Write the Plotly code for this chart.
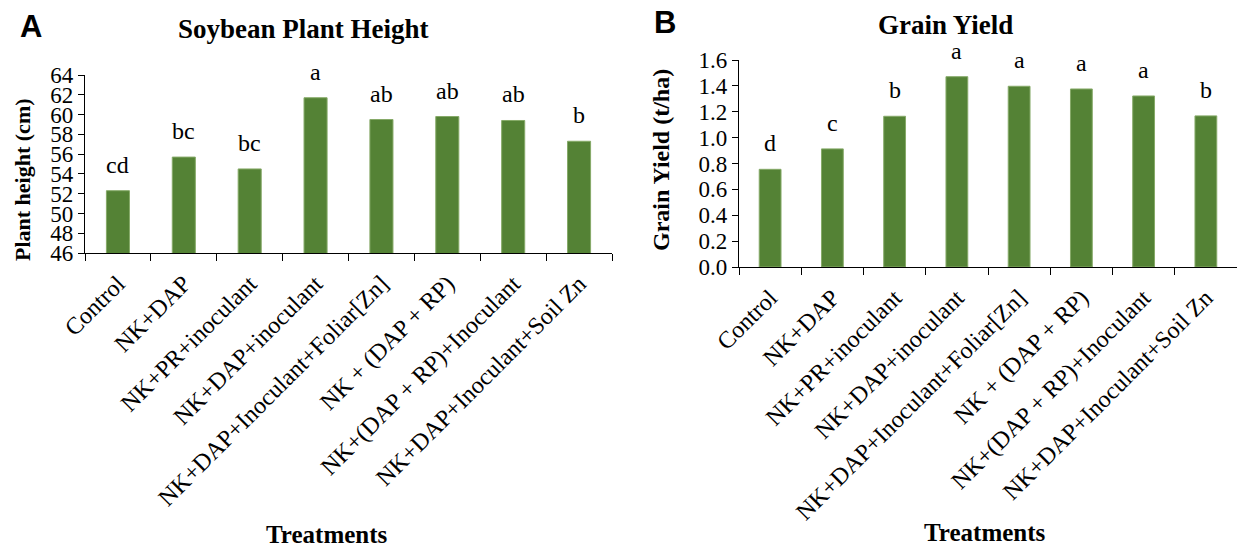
import plotly.graph_objects as go

treatments = ["Control", "NK+DAP", "NK+PR+inoculant", "NK+DAP+inoculant",
              "NK+DAP+Inoculant+Foliar[Zn]", "NK + (DAP + RP)",
              "NK+(DAP + RP)+Inoculant", "NK+DAP+Inoculant+Soil Zn"]
plant_height = [52.3, 55.7, 54.5, 61.7, 59.5, 59.8, 59.4, 57.3]
height_letters = ["cd", "bc", "bc", "a", "ab", "ab", "ab", "b"]
grain_yield = [0.755, 0.913, 1.165, 1.471, 1.397, 1.376, 1.322, 1.168]
yield_letters = ["d", "c", "b", "a", "a", "a", "a", "b"]

W, H = 1239, 550
SERIF = "Liberation Serif"
SANS = "Liberation Sans"
BAR = "#548235"

def px(x):
    return x / W

def py(y):
    return 1 - y / H

fig = go.Figure()
fig.add_trace(go.Bar(x=treatments, y=plant_height, xaxis="x", yaxis="y",
                     marker=dict(color=BAR, line=dict(color="#86aa68", width=1)),
                     width=0.35, showlegend=False))
fig.add_trace(go.Bar(x=treatments, y=grain_yield, xaxis="x2", yaxis="y2",
                     marker=dict(color=BAR, line=dict(color="#86aa68", width=1)),
                     width=0.35, showlegend=False))

tickfont = dict(family=SERIF, size=24, color="black")
common_x = dict(type="category", showline=True, linecolor="black", linewidth=1.3,
                ticks="outside", tickson="boundaries", ticklen=7, tickcolor="black",
                tickangle=-45, tickfont=tickfont, showgrid=False, zeroline=False,
                fixedrange=True, automargin=False, ticklabelstandoff=6)
common_y = dict(showline=True, linecolor="black", linewidth=1.3, ticks="outside",
                ticklen=6, tickcolor="black", tickfont=dict(family=SERIF, size=23, color="black"),
                showgrid=False, zeroline=False, automargin=False)

fig.update_layout(
    width=W, height=H, autosize=False,
    font=dict(family=SERIF, color="black"),
    margin=dict(l=0, r=0, t=0, b=0, pad=0),
    paper_bgcolor="white", plot_bgcolor="white",
    xaxis=dict(domain=[px(85), px(612)], anchor="y", **common_x),
    yaxis=dict(domain=[py(253), py(75)], anchor="x", range=[46, 64], dtick=2, **common_y),
    xaxis2=dict(domain=[px(739), px(1237)], anchor="y2", **common_x),
    yaxis2=dict(domain=[py(267), py(60)], anchor="x2", range=[0, 1.6], dtick=0.2,
                tickformat=".1f", **common_y),
)

annotations = []
lettfont = dict(family=SERIF, size=24, color="black")
for t, v, l in zip(treatments, plant_height, height_letters):
    annotations.append(dict(x=t, y=v, xref="x", yref="y", text=l, showarrow=False,
                            xanchor="center", yanchor="bottom", yshift=11, font=lettfont))
for t, v, l in zip(treatments, grain_yield, yield_letters):
    annotations.append(dict(x=t, y=v, xref="x2", yref="y2", text=l, showarrow=False,
                            xanchor="center", yanchor="bottom", yshift=11, font=lettfont))

def lab(x, y, text, font, angle=0):
    return dict(x=px(x), y=py(y), xref="paper", yref="paper", text=text, showarrow=False,
                xanchor="center", yanchor="middle", textangle=angle, font=font)

titlefont = dict(family=SERIF, size=27, color="black")
annotations += [
    lab(303, 29, "<b>Soybean Plant Height</b>", titlefont),
    lab(945, 25, "<b>Grain Yield</b>", titlefont),
    lab(31, 27, "<b>A</b>", dict(family=SANS, size=31, color="black")),
    lab(665, 22, "<b>B</b>", dict(family=SANS, size=31, color="black")),
    lab(327, 534, "<b>Treatments</b>", dict(family=SERIF, size=25, color="black")),
    lab(985, 532, "<b>Treatments</b>", dict(family=SERIF, size=25, color="black")),
    lab(22, 180, "<b>Plant height (cm)</b>", dict(family=SERIF, size=22, color="black"), -90),
    lab(661, 160, "<b>Grain Yield (t/ha)</b>", dict(family=SERIF, size=24, color="black"), -90),
]
fig.update_layout(annotations=annotations)

fig.write_html("out.html",
               post_script="document.body.style.margin='0';document.body.style.padding='0';")
